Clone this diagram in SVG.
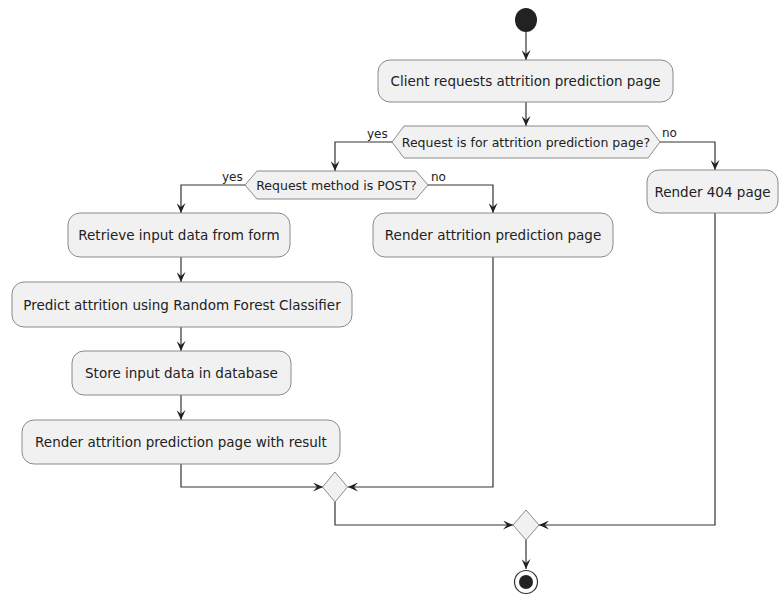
<svg xmlns="http://www.w3.org/2000/svg" width="779" height="597" viewBox="0 0 779 597">
<style>
.box{fill:#F1F1F1;stroke:#8a8a8a;stroke-width:1}
.t{font-family:"DejaVu Sans",sans-serif;font-size:13.5px;fill:#222;text-anchor:middle}
.dt{font-family:"DejaVu Sans",sans-serif;font-size:12.5px;fill:#222;text-anchor:middle}
.lb{font-family:"DejaVu Sans",sans-serif;font-size:12px;fill:#222}
.c{fill:none;stroke:#333;stroke-width:1.2}
</style>
<defs>
<marker id="ah" markerUnits="userSpaceOnUse" markerWidth="10" markerHeight="9" refX="10" refY="4.5" orient="auto">
<path d="M0,0 L10,4.5 L0,9 L4,4.5 Z" fill="#222"/>
</marker>
</defs>
<rect width="779" height="597" fill="#fff"/>
<g id="connectors">
<path class="c" d="M526,32 V60" marker-end="url(#ah)"/>
<path class="c" d="M526,102 V126" marker-end="url(#ah)"/>
<path class="c" d="M392,142 H335 V171" marker-end="url(#ah)"/>
<path class="c" d="M660,142 H715 V170" marker-end="url(#ah)"/>
<path class="c" d="M245,185 H181 V213" marker-end="url(#ah)"/>
<path class="c" d="M428,185 H493 V213" marker-end="url(#ah)"/>
<path class="c" d="M181,257 V282" marker-end="url(#ah)"/>
<path class="c" d="M181,327 V351" marker-end="url(#ah)"/>
<path class="c" d="M181,395 V420" marker-end="url(#ah)"/>
<path class="c" d="M181,464 V487 H323" marker-end="url(#ah)"/>
<path class="c" d="M493,257 V487 H348" marker-end="url(#ah)"/>
<path class="c" d="M335,502 V525 H513" marker-end="url(#ah)"/>
<path class="c" d="M715,213 V525 H539" marker-end="url(#ah)"/>
<path class="c" d="M526,540 V569" marker-end="url(#ah)"/>
<text class="lb" x="367" y="138">yes</text>
<text class="lb" x="662" y="137">no</text>
<text class="lb" x="222" y="181">yes</text>
<text class="lb" x="431" y="181">no</text>
</g>
<g id="start"><ellipse cx="526" cy="20" rx="11" ry="12" fill="#222"/></g>
<g id="client"><rect class="box" x="378" y="60" width="295" height="42" rx="12"/><text class="t" x="525.5" y="86">Client requests attrition prediction page</text></g>
<g id="dec1"><polygon class="box" points="392,142 404,126 648,126 660,142 648,158 404,158"/><text class="dt" x="526" y="146.5">Request is for attrition prediction page?</text></g>
<g id="r404"><rect class="box" x="647" y="170" width="131" height="43" rx="12"/><text class="t" x="712.5" y="196.5">Render 404 page</text></g>
<g id="dec2"><polygon class="box" points="245,185 257,171 416,171 428,185 416,199 257,199"/><text class="dt" x="336.5" y="189.5">Request method is POST?</text></g>
<g id="retrieve"><rect class="box" x="68" y="213" width="222" height="44" rx="12"/><text class="t" x="179" y="240">Retrieve input data from form</text></g>
<g id="renderpage"><rect class="box" x="373" y="213" width="240" height="44" rx="12"/><text class="t" x="493" y="240">Render attrition prediction page</text></g>
<g id="predict"><rect class="box" x="12" y="282" width="340" height="45" rx="12"/><text class="t" x="182" y="309.5">Predict attrition using Random Forest Classifier</text></g>
<g id="store"><rect class="box" x="72" y="351" width="219" height="44" rx="12"/><text class="t" x="181.5" y="378">Store input data in database</text></g>
<g id="renderresult"><rect class="box" x="22" y="420" width="318" height="44" rx="12"/><text class="t" x="181" y="447">Render attrition prediction page with result</text></g>
<g id="merge1"><polygon class="box" points="335,472 347.5,487 335,502 322.5,487"/></g>
<g id="merge2"><polygon class="box" points="526,510 539,525 526,540 513,525"/></g>
<g id="end"><circle cx="526" cy="582" r="11.5" fill="#fff" stroke="#333" stroke-width="1.2"/><circle cx="526" cy="582" r="7" fill="#222"/></g>
</svg>
